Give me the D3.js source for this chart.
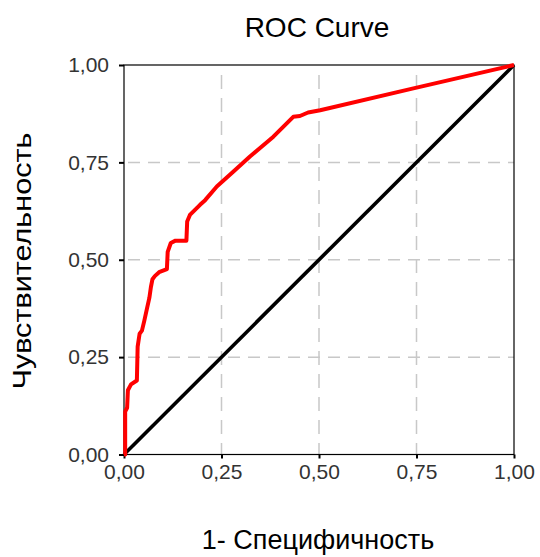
<!DOCTYPE html>
<html>
<head>
<meta charset="utf-8">
<script src="https://cdn.jsdelivr.net/npm/d3@7"></script>
<style>
  body { margin: 0; background: #fff; }
  text { font-family: "Liberation Sans", Arial, sans-serif; }
</style>
</head>
<body>
<svg id="chart" width="540" height="557"></svg>
<script>
// ROC curve points
var fpr = [0, 0.003, 0.003, 0.008, 0.01, 0.018, 0.033, 0.035, 0.04, 0.046, 0.052, 0.059, 0.065, 0.069, 0.073, 0.079, 0.09, 0.11, 0.112, 0.12, 0.132, 0.16, 0.162, 0.169, 0.182, 0.195, 0.208, 0.238, 0.28, 0.323, 0.383, 0.434, 0.451, 0.472, 0.503, 0.742, 1];
var tpr = [0, 0, 0.11, 0.12, 0.165, 0.18, 0.19, 0.277, 0.31, 0.318, 0.343, 0.375, 0.402, 0.43, 0.45, 0.458, 0.468, 0.476, 0.52, 0.543, 0.549, 0.549, 0.598, 0.615, 0.628, 0.641, 0.653, 0.688, 0.726, 0.765, 0.816, 0.867, 0.869, 0.878, 0.884, 0.94, 1];
var ticks = [0, 0.25, 0.5, 0.75, 1];
var tickLabels = ["0,00", "0,25", "0,50", "0,75", "1,00"];

var svg = d3.select("#chart");
var m = { left: 124, right: 514, top: 65, bottom: 454.5 };

var x = d3.scaleLinear().domain([0, 1]).range([m.left, m.right]);
var y = d3.scaleLinear().domain([0, 1]).range([m.bottom, m.top]);

// grid
var inner = ticks.slice(1, 4);
svg.selectAll(".vg").data(inner).enter().append("line")
  .attr("x1", d => x(d)).attr("x2", d => x(d))
  .attr("y1", m.top + 10).attr("y2", m.bottom)
  .attr("stroke", "#c8c8c8").attr("stroke-width", 1.5)
  .attr("stroke-dasharray", "14,9");
svg.selectAll(".hg").data(inner).enter().append("line")
  .attr("y1", d => y(d)).attr("y2", d => y(d))
  .attr("x1", m.left + 4).attr("x2", m.right)
  .attr("stroke", "#c8c8c8").attr("stroke-width", 1.5)
  .attr("stroke-dasharray", "12,8");

// frame
svg.append("rect")
  .attr("x", m.left).attr("y", m.top)
  .attr("width", m.right - m.left).attr("height", m.bottom - m.top)
  .attr("fill", "none").attr("stroke", "#000").attr("stroke-width", 1.2);

// axes
var xAxis = d3.axisBottom(x).tickValues(ticks).tickFormat((d, i) => tickLabels[i]).tickSize(4).tickPadding(6);
var yAxis = d3.axisLeft(y).tickValues(ticks).tickFormat((d, i) => tickLabels[i]).tickSize(5).tickPadding(10);

var gx = svg.append("g").attr("transform", "translate(0," + m.bottom + ")").call(xAxis);
var gy = svg.append("g").attr("transform", "translate(" + m.left + ",0)").call(yAxis);
[gx, gy].forEach(function(g) {
  g.select(".domain").remove();
  g.selectAll(".tick line").attr("stroke", "#000").attr("stroke-width", 2);
  g.selectAll(".tick text").attr("fill", "#333").style("font-size", "21px")
    .style("font-family", "'Liberation Sans', Arial, sans-serif");
});

// diagonal reference line
svg.append("line")
  .attr("x1", x(0)).attr("y1", y(0)).attr("x2", x(1)).attr("y2", y(1))
  .attr("stroke", "#000").attr("stroke-width", 3.6);

// ROC curve
var line = d3.line().x(d => x(d[0])).y(d => y(d[1]));
svg.append("path")
  .datum(d3.zip(fpr, tpr))
  .attr("d", line)
  .attr("fill", "none").attr("stroke", "#ff0000").attr("stroke-width", 4)
  .attr("stroke-linejoin", "round");

// titles
svg.append("text").attr("x", 317).attr("y", 37)
  .attr("text-anchor", "middle").style("font-size", "28px").text("ROC Curve");
svg.append("text").attr("x", 318).attr("y", 549)
  .attr("text-anchor", "middle").style("font-size", "27px").text("1- Специфичность");
svg.append("text")
  .attr("transform", "translate(31,261) rotate(-90)")
  .attr("text-anchor", "middle").style("font-size", "26px")
  .attr("textLength", 257).attr("lengthAdjust", "spacingAndGlyphs")
  .text("Чувствительность");
</script>
</body>
</html>
